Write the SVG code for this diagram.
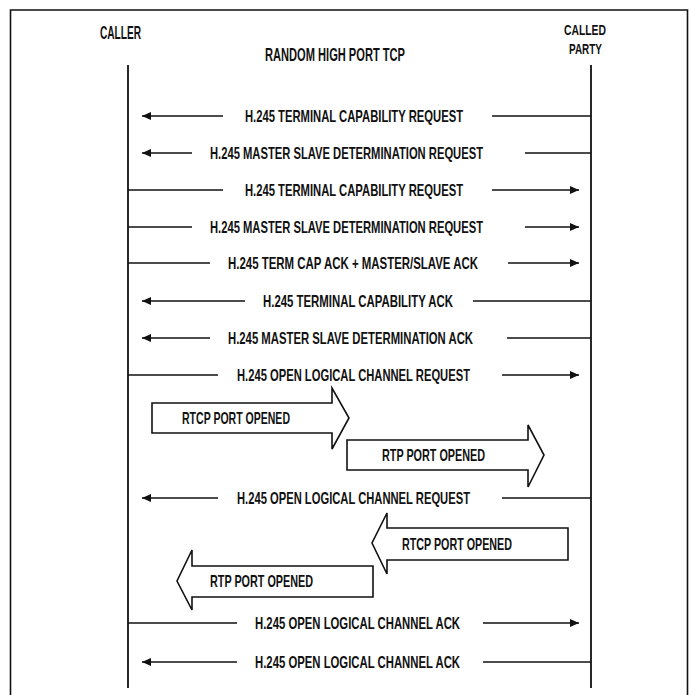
<svg xmlns="http://www.w3.org/2000/svg" width="689" height="695" viewBox="0 0 689 695">
<style>
.t{font-family:"Liberation Sans",Arial,sans-serif;font-weight:bold;font-size:16.5px;fill:#111}
.h{font-family:"Liberation Sans",Arial,sans-serif;font-weight:bold;font-size:17.5px;fill:#111}
.hs{font-family:"Liberation Sans",Arial,sans-serif;font-weight:bold;font-size:15.5px;fill:#111}
.ln{stroke:#111;stroke-width:1.6;fill:none}
.life{stroke:#111;stroke-width:1.8;fill:none}
.blk{stroke:#111;stroke-width:1.6;fill:#fff;stroke-linejoin:miter}
</style>
<defs>
<marker id="ah" markerWidth="10" markerHeight="8" refX="9" refY="4" orient="auto" markerUnits="userSpaceOnUse">
<path d="M0,0 L9,4 L0,8 Z" fill="#111"/>
</marker>
</defs>
<rect width="689" height="695" fill="#fff"/>
<path class="ln" d="M10.5,695 L10.5,10 L687.5,10 L687.5,695"/>

<g id="caller">
<text class="h" x="100" y="39" textLength="41" lengthAdjust="spacingAndGlyphs">CALLER</text>
<line class="life" x1="128" y1="65" x2="128" y2="688"/>
</g>
<g id="called">
<text class="hs" x="564" y="35" textLength="42" lengthAdjust="spacingAndGlyphs">CALLED</text>
<text class="hs" x="569" y="54" textLength="33" lengthAdjust="spacingAndGlyphs">PARTY</text>
<line class="life" x1="591" y1="65" x2="591" y2="688"/>
</g>
<g id="title">
<text class="h" x="265" y="61" textLength="140" lengthAdjust="spacingAndGlyphs">RANDOM HIGH PORT TCP</text>
</g>

<g id="connectors">
<line class="ln" x1="223" y1="116" x2="142" y2="116" marker-end="url(#ah)"/>
<line class="ln" x1="492" y1="116" x2="591" y2="116"/>
<text class="t" x="245" y="122" textLength="218" lengthAdjust="spacingAndGlyphs">H.245 TERMINAL CAPABILITY REQUEST</text>

<line class="ln" x1="192" y1="153" x2="142" y2="153" marker-end="url(#ah)"/>
<line class="ln" x1="525" y1="153" x2="591" y2="153"/>
<text class="t" x="210" y="159" textLength="273" lengthAdjust="spacingAndGlyphs">H.245 MASTER SLAVE DETERMINATION REQUEST</text>

<line class="ln" x1="128" y1="190" x2="223" y2="190"/>
<line class="ln" x1="492" y1="190" x2="579" y2="190" marker-end="url(#ah)"/>
<text class="t" x="245" y="196" textLength="218" lengthAdjust="spacingAndGlyphs">H.245 TERMINAL CAPABILITY REQUEST</text>

<line class="ln" x1="128" y1="227" x2="192" y2="227"/>
<line class="ln" x1="525" y1="227" x2="579" y2="227" marker-end="url(#ah)"/>
<text class="t" x="210" y="233" textLength="273" lengthAdjust="spacingAndGlyphs">H.245 MASTER SLAVE DETERMINATION REQUEST</text>

<line class="ln" x1="128" y1="263" x2="210" y2="263"/>
<line class="ln" x1="508" y1="263" x2="579" y2="263" marker-end="url(#ah)"/>
<text class="t" x="228" y="269" textLength="250" lengthAdjust="spacingAndGlyphs">H.245 TERM CAP ACK + MASTER/SLAVE ACK</text>

<line class="ln" x1="245" y1="301" x2="142" y2="301" marker-end="url(#ah)"/>
<line class="ln" x1="473" y1="301" x2="591" y2="301"/>
<text class="t" x="263" y="307" textLength="190" lengthAdjust="spacingAndGlyphs">H.245 TERMINAL CAPABILITY ACK</text>

<line class="ln" x1="210" y1="338" x2="142" y2="338" marker-end="url(#ah)"/>
<line class="ln" x1="507" y1="338" x2="591" y2="338"/>
<text class="t" x="228" y="344" textLength="245" lengthAdjust="spacingAndGlyphs">H.245 MASTER SLAVE DETERMINATION ACK</text>

<line class="ln" x1="128" y1="375" x2="218" y2="375"/>
<line class="ln" x1="502" y1="375" x2="579" y2="375" marker-end="url(#ah)"/>
<text class="t" x="237" y="381" textLength="233" lengthAdjust="spacingAndGlyphs">H.245 OPEN LOGICAL CHANNEL REQUEST</text>

<line class="ln" x1="218" y1="498" x2="142" y2="498" marker-end="url(#ah)"/>
<line class="ln" x1="502" y1="498" x2="591" y2="498"/>
<text class="t" x="237" y="504" textLength="233" lengthAdjust="spacingAndGlyphs">H.245 OPEN LOGICAL CHANNEL REQUEST</text>

<line class="ln" x1="128" y1="623" x2="237" y2="623"/>
<line class="ln" x1="483" y1="623" x2="579" y2="623" marker-end="url(#ah)"/>
<text class="t" x="255" y="629" textLength="205" lengthAdjust="spacingAndGlyphs">H.245 OPEN LOGICAL CHANNEL ACK</text>

<line class="ln" x1="237" y1="662" x2="142" y2="662" marker-end="url(#ah)"/>
<line class="ln" x1="483" y1="662" x2="591" y2="662"/>
<text class="t" x="255" y="668" textLength="205" lengthAdjust="spacingAndGlyphs">H.245 OPEN LOGICAL CHANNEL ACK</text>
</g>

<g id="rtcp-out">
<path class="blk" d="M152,403 L332,403 L332,388 L349,418 L332,449 L332,433 L152,433 Z"/>
<text class="t" x="182" y="424" textLength="108" lengthAdjust="spacingAndGlyphs">RTCP PORT OPENED</text>
</g>
<g id="rtp-out">
<path class="blk" d="M347,440 L528,440 L528,425 L544,455 L528,487 L528,470 L347,470 Z"/>
<text class="t" x="382" y="461" textLength="103" lengthAdjust="spacingAndGlyphs">RTP PORT OPENED</text>
</g>
<g id="rtcp-in">
<path class="blk" d="M568,528 L387,528 L387,513 L372,543 L387,574 L387,560 L568,560 Z"/>
<text class="t" x="402" y="550" textLength="110" lengthAdjust="spacingAndGlyphs">RTCP PORT OPENED</text>
</g>
<g id="rtp-in">
<path class="blk" d="M373,566 L192,566 L192,550 L177,581 L192,610 L192,597 L373,597 Z"/>
<text class="t" x="210" y="587" textLength="103" lengthAdjust="spacingAndGlyphs">RTP PORT OPENED</text>
</g>
</svg>
